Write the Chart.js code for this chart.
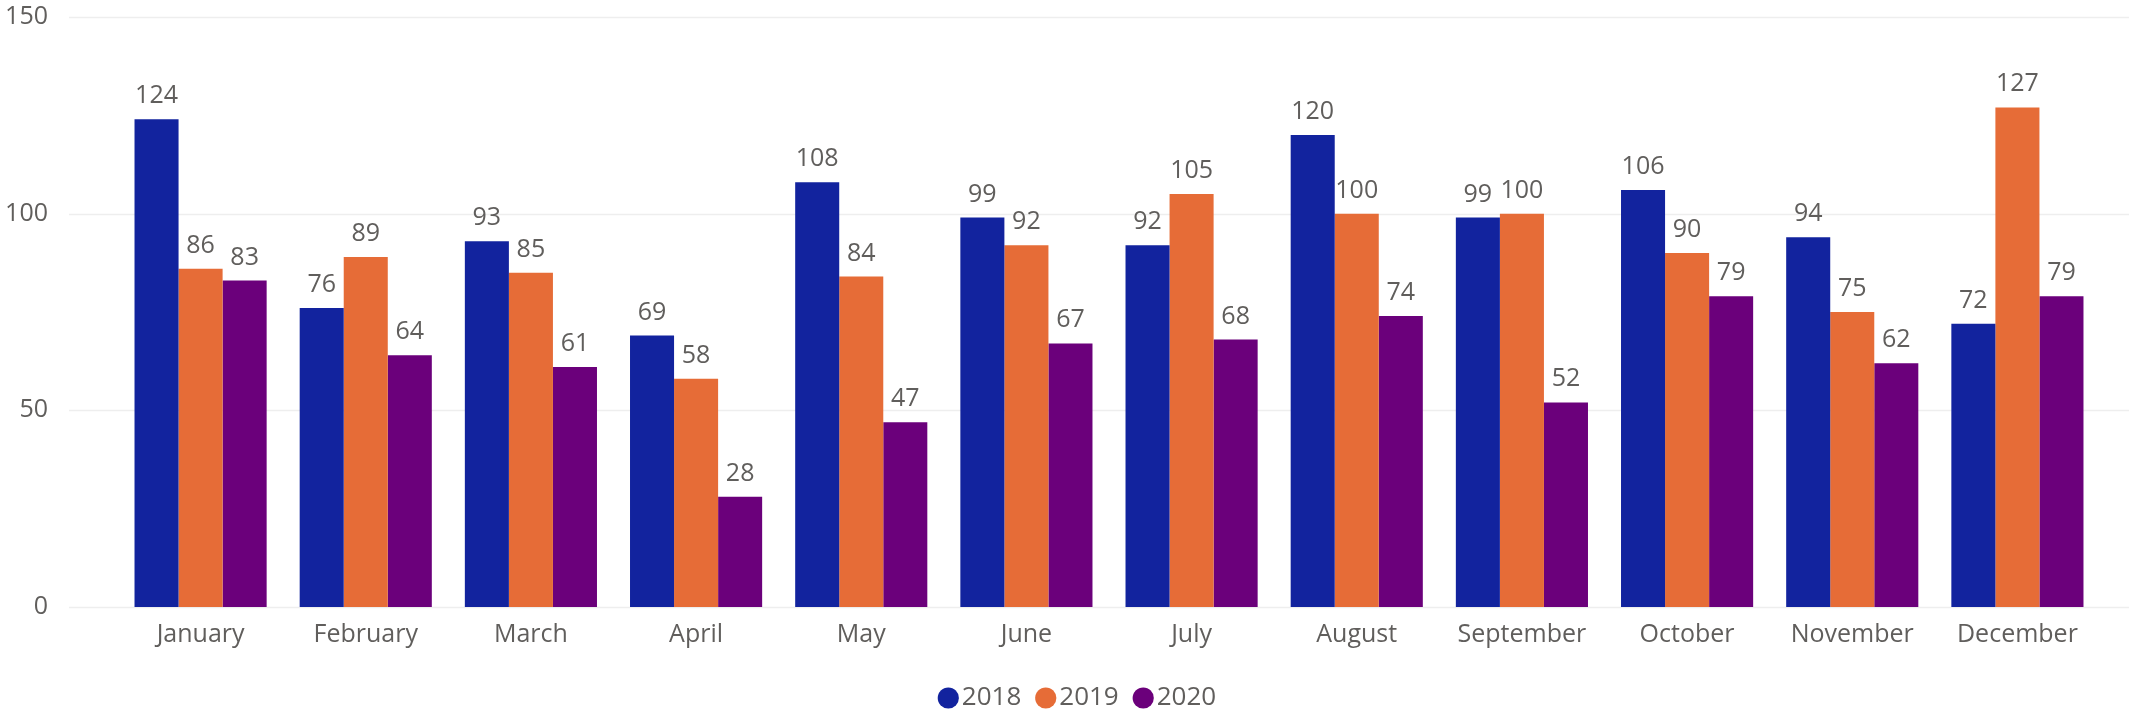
<!DOCTYPE html>
<html>
<head>
<meta charset="utf-8">
<script src="https://cdn.jsdelivr.net/npm/chart.js@4"></script>
<style>
  html, body { margin: 0; padding: 0; background: #ffffff; }
  #wrap { width: 2129px; height: 714px; position: relative; }
</style>
</head>
<body>
<div id="wrap"><canvas id="chart"></canvas></div>
<script>
    'use strict';

    const months = ['January', 'February', 'March', 'April', 'May', 'June',
        'July', 'August', 'September', 'October', 'November', 'December'];
    const years = ['2018', '2019', '2020'];
    const values2018 = [124, 76, 93, 69, 108, 99, 92, 120, 99, 106, 94, 72];
    const values2019 = [86, 89, 85, 58, 84, 92, 105, 100, 100, 90, 75, 127];
    const values2020 = [83, 64, 61, 28, 47, 67, 68, 74, 52, 79, 62, 79];
    const yTicks = [0, 50, 100, 150];

    const COLORS = ['#12239E', '#E66C37', '#6B007B'];
    const TEXT = '#605E5C';
    const FONT = "'Segoe UI', 'Open Sans', sans-serif";

    // horizontal gridlines run wider than the category band
    const gridPlugin = {
        id: 'wideGrid',
        beforeDatasetsDraw(chart) {
            const { ctx, scales: { y } } = chart;
            ctx.save();
            ctx.strokeStyle = '#EEEEEE';
            ctx.lineWidth = 1.5;
            yTicks.forEach(v => {
                const py = Math.round(y.getPixelForValue(v)) + 0.5;
                ctx.beginPath();
                ctx.moveTo(69, py);
                ctx.lineTo(chart.width, py);
                ctx.stroke();
            });
            ctx.restore();
        }
    };

    // value labels above each bar
    const valueLabels = {
        id: 'valueLabels',
        afterDatasetsDraw(chart) {
            const { ctx } = chart;
            ctx.save();
            ctx.fillStyle = TEXT;
            ctx.font = `25px ${FONT}`;
            ctx.textAlign = 'center';
            ctx.textBaseline = 'alphabetic';
            chart.data.datasets.forEach((ds, i) => {
                chart.getDatasetMeta(i).data.forEach((bar, j) => {
                    ctx.fillText(String(ds.data[j]), bar.x, bar.y - 16);
                });
            });
            ctx.restore();
        }
    };

    // nudge the legend a little right and down
    const legendShift = {
        id: 'legendShift',
        afterLayout(chart) {
            const lg = chart.legend;
            if (!lg) return;
            lg.left += 32; lg.right += 32;
            lg.top += 6; lg.bottom += 6;
        }
    };

    const series = [values2018, values2019, values2020];

    new Chart(document.getElementById('chart').getContext('2d'), {
        type: 'bar',
        data: {
            labels: months,
            datasets: years.map((yr, i) => ({
                label: yr,
                data: series[i],
                backgroundColor: COLORS[i],
                borderWidth: 0,
                categoryPercentage: 0.8,
                barPercentage: 1.0
            }))
        },
        options: {
            responsive: true,
            maintainAspectRatio: false,
            animation: false,
            devicePixelRatio: 1,
            layout: { padding: { top: 17, right: 29, left: 0, bottom: -1 } },
            scales: {
                x: {
                    grid: { display: false },
                    border: { display: false },
                    ticks: { color: TEXT, font: { size: 25, family: FONT }, padding: 5, maxRotation: 0 }
                },
                y: {
                    min: 0,
                    max: 150,
                    afterFit(scale) { scale.width = 118; },
                    afterBuildTicks(scale) { scale.ticks = yTicks.map(v => ({ value: v })); },
                    // tick marks are hidden; their length only pushes the labels left
                    grid: { display: false, drawTicks: true, tickLength: 70 },
                    border: { display: false },
                    ticks: { color: TEXT, font: { size: 25, family: FONT }, padding: 0 }
                }
            },
            plugins: {
                legend: {
                    position: 'bottom',
                    labels: {
                        color: TEXT,
                        font: { size: 26, family: FONT },
                        usePointStyle: true,
                        pointStyle: 'circle',
                        boxWidth: 1,
                        boxHeight: 15,
                        padding: 24
                    }
                },
                tooltip: { enabled: false }
            }
        },
        plugins: [gridPlugin, valueLabels, legendShift]
    });
</script>
</body>
</html>
